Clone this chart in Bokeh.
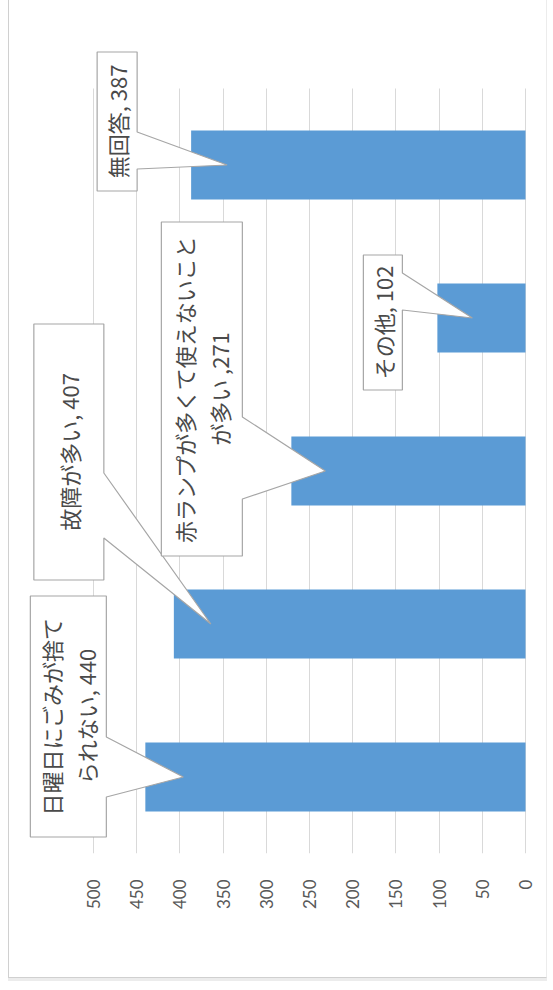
import math
from bokeh.plotting import figure
from bokeh.models import Range1d, FixedTicker, Grid, InlineStyleSheet
from bokeh.core.properties import value
from bokeh.embed import file_html
from bokeh.resources import INLINE

# ---- data ----
categories = ["日曜日にごみが捨てられない", "故障が多い", "赤ランプが多くて使えないことが多い", "その他", "無回答"]
counts = [440, 407, 271, 102, 387]
# where each category label wraps inside its callout (character index, None = single line)
wrap_at = [9, None, 14, None, None]
label_sep = [", ", ", ", " ,", ", ", ", "]
ticks = [0, 50, 100, 150, 200, 250, 300, 350, 400, 450, 500]

# ---- layout (pixels) ----
W, H = 553, 990
B_LEFT, B_RIGHT, B_TOP, B_BOTTOM = 20, 8, 40, 137
ZERO_PX = 525 - B_LEFT          # frame x of value 0
PX_PER_UNIT = 0.864
PX_PER_CAT = 153.0
BAR_H = 0.45

frame_w = W - B_LEFT - B_RIGHT
frame_h = H - B_TOP - B_BOTTOM
x_start = ZERO_PX / PX_PER_UNIT
x_end = -(frame_w - ZERO_PX) / PX_PER_UNIT
y_start = -0.5
y_end = -0.5 + frame_h / PX_PER_CAT

# callout geometry relative to its tip, screen pixels (x right, y down):
# tip_in, box_left, box_right, box_top, box_bottom, wedge_top, wedge_bottom
callouts = [
    (38, -153, -77, -181, 60, -40, 20),
    (37, -177, -107, -300, -44, -151, -86),
    (34, -164, -83, -249, 85, -54, 28),
    (35, -109, -70, -63, 72, -45, -8),
    (36, -130, -90, -113, 26, -33, 4),
]

# chart-area border drawn by CSS on the plot's host element
border_css = InlineStyleSheet(css="""
:host { position: relative; }
:host::after {
  content: ""; position: absolute; left: 8px; top: 0px; width: 539px; height: 978px;
  border-left: 1px solid #d0d0d0; border-right: 1px solid #ececec; border-bottom: 1px solid #d0d0d0;
  box-shadow: 0 3px 0 0 #ececec; pointer-events: none; box-sizing: border-box;
}
""")

p = figure(width=W, height=H, output_backend="svg", toolbar_location=None,
           x_range=Range1d(x_start, x_end), y_range=Range1d(y_start, y_end),
           x_axis_location="below", y_axis_location=None,
           min_border_left=B_LEFT, min_border_right=B_RIGHT,
           min_border_top=B_TOP, min_border_bottom=B_BOTTOM,
           background_fill_color="white", border_fill_color="white",
           stylesheets=[border_css])
p.outline_line_color = None
p.ygrid.visible = False
p.xgrid.ticker = FixedTicker(ticks=ticks)
p.xgrid.grid_line_color = "#d9d9d9"
p.xgrid.grid_line_width = 1
if "cross_bounds" in Grid.properties():
    p.xgrid.cross_bounds = (-0.5, len(categories) - 0.5)
else:
    p.xgrid.visible = False
    p.segment(x0=ticks, x1=ticks, y0=[-0.5] * len(ticks), y1=[len(categories) - 0.5] * len(ticks),
              line_color="#d9d9d9", line_width=1)

ax = p.xaxis[0]
ax.ticker = FixedTicker(ticks=ticks)
ax.axis_line_color = None
ax.major_tick_line_color = None
ax.minor_tick_line_color = None
ax.major_label_orientation = math.pi / 2
ax.major_label_standoff = 20
ax.major_label_text_font = "Lato"
ax.major_label_text_font_size = "17px"
ax.major_label_text_color = "#595959"

idx = list(range(len(categories)))
p.hbar(y=idx, left=0, right=counts, height=BAR_H, fill_color="#5b9bd5", line_color=None)

# callouts
xs, ys, tx, ty, texts = [], [], [], [], []
for i, (cat, v, wrap, sep, c) in enumerate(zip(categories, counts, wrap_at, label_sep, callouts)):
    tip_in, bl, br, bt, bb, wt, wb = c
    tip_v = v - tip_in / PX_PER_UNIT
    def X(dx):
        return tip_v - dx / PX_PER_UNIT
    def Y(dy):
        return i - dy / PX_PER_CAT
    pts = [(bl, bt), (br, bt), (br, wt), (0, 0), (br, wb), (br, bb), (bl, bb)]
    xs.append([X(a) for a, b in pts])
    ys.append([Y(b) for a, b in pts])
    tx.append(X((bl + br) / 2))
    ty.append(Y((bt + bb) / 2))
    s = cat if wrap is None else cat[:wrap] + "\n" + cat[wrap:]
    texts.append(f"{s}{sep}{v}")

p.patches(xs=xs, ys=ys, fill_color="white", line_color="#a6a6a6", line_width=1.2)
p.text(x=tx, y=ty, text=texts, angle=math.pi / 2, text_align="center", text_baseline="middle",
       text_font=value("Noto Sans CJK JP"), text_font_size="22px", text_color="#4a4a4a",
       text_line_height=1.1)

open("out.html", "w").write(file_html(p, INLINE))
